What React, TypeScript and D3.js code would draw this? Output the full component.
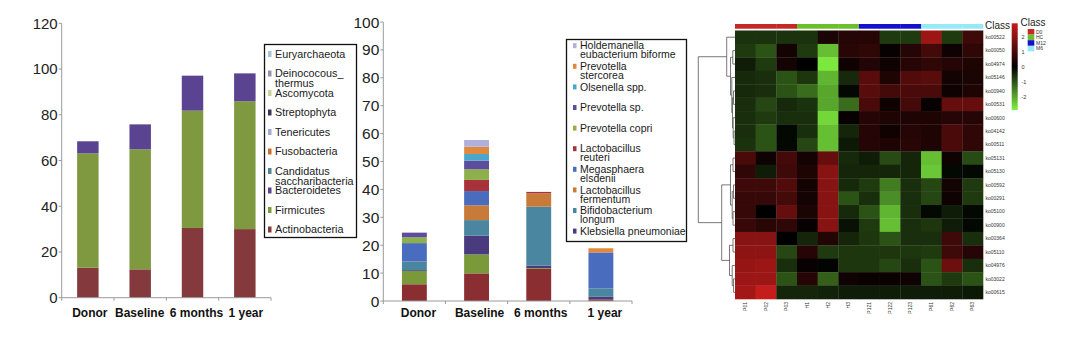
import React from 'react';
import * as d3 from 'd3';

// ---------------- shared categories ----------------
const categories = ['Donor', 'Baseline', '6 months', '1 year'];

// ---------------- left panel: phyla (stack order bottom -> top) ----------------
const phylaKeys = ['Actinobacteria', 'Firmicutes', 'Bacteroidetes', 'Candidatus saccharibacteria', 'Fusobacteria', 'Tenericutes', 'Streptophyta', 'Ascomycota', 'Deinococous_ thermus', 'Euryarchaeota'];
const actinobacteria = [13.1, 12.4, 30.5, 30.0];
const firmicutes = [50.0, 52.5, 51.3, 55.9];
const bacteroidetes = [5.3, 10.9, 15.3, 12.2];
const candidatus = [0, 0, 0, 0];
const fusobacteria = [0, 0, 0, 0];
const tenericutes = [0, 0, 0, 0];
const streptophyta = [0, 0, 0, 0];
const ascomycota = [0, 0, 0, 0];
const deinococcus = [0, 0, 0, 0];
const euryarchaeota = [0, 0, 0, 0];
const phylaColors = ['#843a3c', '#7e993f', '#5a4390', '#4b8597', '#c86e2e', '#a3a9d6', '#3a3358', '#c6d39c', '#9891b4', '#a4c4d8'];
const leftTicks = [0, 20, 40, 60, 80, 100, 120];

// ---------------- middle panel: species (stack order bottom -> top) ----------------
const speciesKeys = ['Other taxon A', 'Other taxon B', 'Klebsiella pneumoniae', 'Bifidobacterium longum', 'Lactobacillus fermentum', 'Megasphaera elsdenii', 'Lactobacillus reuteri', 'Prevotella copri', 'Prevotella sp.', 'Olsenella spp.', 'Prevotella stercorea', 'Holdemanella eubacterium biforme'];
const otherA = [6.0, 9.9, 11.5, 0.6];
const otherB = [4.75, 6.8, 0.3, 0];
const klebsiella = [0.3, 6.7, 0.9, 0.9];
const bifidobacterium = [3.1, 5.6, 21.1, 3.0];
const lFermentum = [0, 5.3, 4.8, 0];
const megasphaera = [6.6, 5.1, 0, 12.9];
const lReuteri = [0, 4.0, 0.5, 0];
const pCopri = [2.1, 3.8, 0, 0];
const prevotellaSp = [1.65, 3.1, 0, 0];
const olsenella = [0, 2.4, 0, 0];
const pStercorea = [0, 2.6, 0, 1.5];
const holdemanella = [0, 2.4, 0, 0];
const speciesColors = ['#8b2e32', '#7a9a3a', '#4a3a7e', '#4a86a0', '#c87a38', '#4a6cbe', '#a8323a', '#8db04c', '#5e4c9c', '#4aa6cc', '#e0883c', '#b0b0dc'];
const midTicks = [0, 10, 20, 30, 40, 50, 60, 70, 80, 90, 100];

// legend lines (top -> bottom)
const leftLegend = [
  ['Euryarchaeota'], ['Deinococous_', 'thermus'], ['Ascomycota'], ['Streptophyta'], ['Tenericutes'],
  ['Fusobacteria'], ['Candidatus', 'saccharibacteria'], ['Bacteroidetes'], ['Firmicutes'], ['Actinobacteria'],
];
const midLegend = [
  ['Holdemanella', 'eubacterium biforme'], ['Prevotella', 'stercorea'], ['Olsenella spp.'], ['Prevotella sp.'],
  ['Prevotella copri'], ['Lactobacillus', 'reuteri'], ['Megasphaera', 'elsdenii'], ['Lactobacillus', 'fermentum'],
  ['Bifidobacterium', 'longum'], ['Klebsiella pneumoniae'],
];

// ---------------- heatmap ----------------
const hmRows = ['ko00522', 'ko00050', 'ko04974', 'ko05146', 'ko00940', 'ko00531', 'ko00600', 'ko04142', 'ko00511', 'ko05131', 'ko05130', 'ko00592', 'ko00291', 'ko05100', 'ko00900', 'ko00364', 'ko05110', 'ko04976', 'ko03022', 'ko00615'];
const hmCols = ['P01', 'P02', 'P03', 'H1', 'H2', 'H3', 'P121', 'P122', 'P123', 'P61', 'P62', 'P63'];
const hmColClass = ['D0', 'D0', 'D0', 'HC', 'HC', 'HC', 'M12', 'M12', 'M12', 'M6', 'M6', 'M6'];
const classNames = ['D0', 'HC', 'M12', 'M6'];
const classColors = ['#c62828', '#6abf2a', '#1410cc', '#96eaf8'];
const hmValues = [
  [-0.6, -0.6, -0.6, -0.6, 0.4, 0.55, 0.55, -0.7, -0.7, 2.3, -0.7, 0.9],
  [-0.7, -1.0, 0.3, -0.7, -2.3, 0.6, 0.7, 0.1, 0.55, 1.0, 0.2, 0.7],
  [-0.35, -0.7, 0.3, 0.0, -2.8, 0.25, 0.5, 0.2, 0.55, 0.7, 0.55, 0.45],
  [-0.5, -0.55, -1.0, -0.65, -2.2, -0.5, 1.3, 0.45, 1.2, 1.3, 0.3, 0.4],
  [-0.5, -0.55, -1.0, -1.3, -2.0, -0.1, 1.3, 1.0, 1.1, 1.1, 0.2, 0.45],
  [-0.55, -0.85, -0.5, -0.6, -2.0, -1.3, 1.1, 0.25, 1.0, 0.1, 1.5, 1.5],
  [-0.55, -0.7, -0.55, -0.55, -2.6, 0.1, 0.55, 0.45, 0.45, 0.45, 0.55, 0.55],
  [-0.55, -1.0, -0.1, -0.55, -2.3, -0.45, 0.55, 0.25, 0.55, 0.45, 1.1, 0.7],
  [-0.6, -1.0, -0.1, -0.85, -2.3, -0.3, 0.55, 0.45, 0.6, 0.45, 1.1, 0.7],
  [1.1, 0.2, 1.0, 0.3, 1.5, -0.5, -0.35, -0.9, -0.45, -2.3, 0.2, -0.9],
  [0.7, -0.35, 0.9, 0.45, 2.0, -0.45, -0.45, -0.45, -0.45, -2.4, -0.1, -0.1],
  [0.9, 0.9, 1.2, 0.3, 2.0, -0.5, -0.7, -1.5, -0.55, -0.85, 0.3, -0.7],
  [0.8, 0.8, 1.0, 0.3, 2.0, -1.0, -0.55, -1.7, -0.55, -0.85, 0.2, -0.7],
  [0.8, 0.0, 1.5, 0.4, 2.0, -0.5, -1.0, -2.2, -0.55, -0.1, -0.35, -0.1],
  [0.8, 0.6, 0.7, 0.1, 2.0, -0.2, -0.7, -2.3, -0.55, -0.65, -0.35, -0.1],
  [2.0, 2.0, 0.0, -0.45, 0.5, -0.45, -0.65, -1.0, -0.55, -0.55, 0.9, -0.55],
  [2.1, 2.1, -0.85, 0.55, -0.7, -0.65, -0.65, -0.65, -0.65, -0.7, 0.9, 0.55],
  [2.2, 2.3, -0.55, 0.1, -0.05, -0.65, -0.65, -0.85, -0.55, -1.0, 1.6, -0.55],
  [2.3, 2.3, -1.0, 0.55, -1.15, 0.2, 0.15, 0.15, 0.2, -1.0, -0.7, -1.0],
  [2.4, 2.9, -0.45, -0.45, -0.4, -0.35, -0.35, -0.35, -0.35, -0.35, -0.35, -0.3],
];
const keyTicks = [2, 1, 0, -1, -2];
// row dendrogram, hclust-style merges: negative = leaf (row index + 1), positive = earlier merge (1-based)
const dendroMerges: [number, number, number][] = [
  [-8, -9, 1.0], [-7, 1, 1.8], [-5, -6, 1.5], [3, 2, 2.5], [-4, 4, 3.2], [-2, -3, 2.2], [6, 5, 4.5], [-1, 7, 8.3],
  [-10, -11, 2.0], [-12, -13, 1.5], [-14, -15, 2.0], [10, 11, 2.8], [9, 12, 4.5], [-16, -17, 2.0], [-19, -20, 1.5],
  [-18, 15, 2.8], [14, 16, 5.5], [13, 17, 13.3], [8, 18, 36.7],
];

const FONT = 'Liberation Sans, Arial, Helvetica, sans-serif';

function StackedPanel(props: {
  keys: string[]; series: number[][]; colors: string[]; ticks: number[];
  yDomain: [number, number]; yRange: [number, number]; xRange: [number, number];
  pad: number; tickFont: number; labelDx: number[];
}) {
  const { keys, series, colors, ticks, yDomain, yRange, xRange, pad, tickFont, labelDx } = props;
  const y = d3.scaleLinear().domain(yDomain).range(yRange);
  const x = d3.scaleBand<string>().domain(categories).range(xRange).paddingInner(pad).paddingOuter(pad / 2);
  const rows = categories.map((c, i) => {
    const r: any = { cat: c };
    keys.forEach((k, j) => (r[k] = series[j][i]));
    return r;
  });
  const stacked = d3.stack<any>().keys(keys)(rows);
  const step = x.step();
  const x0 = xRange[0];
  const axisColor = '#9a9a9a';
  return (
    <g>
      {stacked.map((layer, li) => (
        <g key={li} fill={colors[li]}>
          {layer.map((d, di) =>
            d[1] - d[0] > 0 ? (
              <rect key={di} x={x(d.data.cat)!} width={x.bandwidth()} y={y(d[1])} height={y(d[0]) - y(d[1])} />
            ) : null
          )}
        </g>
      ))}
      {/* y axis */}
      <line x1={x0} x2={x0} y1={y(yDomain[1])} y2={y(0)} stroke={axisColor} strokeWidth={1} />
      {ticks.map((t) => (
        <g key={t}>
          <line x1={x0 - 3} x2={x0} y1={y(t)} y2={y(t)} stroke={axisColor} strokeWidth={1} />
          <text x={x0 - 4} y={y(t)} dy="0.36em" textAnchor="end" fontSize={tickFont} fill="#222" fontFamily={FONT}>
            {t}
          </text>
        </g>
      ))}
      {/* x axis */}
      <line x1={x0} x2={xRange[1]} y1={y(0)} y2={y(0)} stroke={axisColor} strokeWidth={1} />
      {d3.range(categories.length + 1).map((i) => (
        <line key={i} x1={x0 + i * step} x2={x0 + i * step} y1={y(0)} y2={y(0) + 3} stroke={axisColor} strokeWidth={1} />
      ))}
      {categories.map((c, i) => (
        <text key={c} x={x(c)! + x.bandwidth() / 2 + labelDx[i]} y={317} textAnchor="middle" fontSize={12} fontWeight="bold" fill="#111" fontFamily={FONT}>
          {c}
        </text>
      ))}
    </g>
  );
}

function Legend(props: { x: number; y: number; w: number; h: number; items: string[][]; colors: string[]; y0: number; dy: number; lineH: number; font: number; sw: number; sh: number; textX: number }) {
  const { x, y, w, h, items, colors, y0, dy, lineH, font, sw, sh, textX } = props;
  return (
    <g>
      <rect x={x} y={y} width={w} height={h} fill="#fff" stroke="#111" strokeWidth={1.3} />
      {items.map((lines, i) => {
        const cy = y0 + i * dy;
        return (
          <g key={i}>
            <rect x={textX - sw - 3.5} y={cy - sh / 2} width={sw} height={sh} fill={colors[i]} />
            {lines.map((ln, j) => (
              <text key={j} x={textX} y={cy + j * lineH} dy="0.35em" fontSize={font} fill="#1a1a1a" fontFamily={FONT}>
                {ln}
              </text>
            ))}
          </g>
        );
      })}
    </g>
  );
}

function Heatmap() {
  const x = d3.scaleBand<number>().domain(d3.range(hmCols.length)).range([735, 983]);
  const y = d3.scaleBand<number>().domain(d3.range(hmRows.length)).range([30.5, 299]);
  const color = d3.scaleLinear<string>().domain([-2.9, 0, 2.95]).range(['#80f040', '#000000', '#c81c1c']).interpolate(d3.interpolateRgb).clamp(true);
  const classColor = d3.scaleOrdinal<string, string>().domain(classNames).range(classColors);
  const yKey = d3.scaleLinear().domain([-2.9, 2.95]).range([110, 23.3]);

  // dendrogram layout
  const maxH = d3.max(dendroMerges, (m) => m[2])!;
  const hx = d3.scaleLinear().domain([0, maxH]).range([735, 698.3]);
  const posY: number[] = [];
  const posH: number[] = [];
  const segs: { x1: number; y1: number; x2: number; y2: number }[] = [];
  const nodeY = (n: number) => (n < 0 ? y(-n - 1)! + y.bandwidth() / 2 : posY[n - 1]);
  const nodeX = (n: number) => (n < 0 ? hx(0) : hx(posH[n - 1]));
  dendroMerges.forEach((m, i) => {
    const [a, b, h] = m;
    const ya = nodeY(a), yb = nodeY(b);
    const xp = hx(h);
    segs.push({ x1: xp, y1: ya, x2: xp, y2: yb });
    segs.push({ x1: xp, y1: ya, x2: nodeX(a), y2: ya });
    segs.push({ x1: xp, y1: yb, x2: nodeX(b), y2: yb });
    posY[i] = (ya + yb) / 2;
    posH[i] = h;
  });

  const gradStops = d3.range(0, 1.0001, 0.05).map((t) => ({ t, c: color(2.95 - t * (2.95 + 2.9)) }));

  return (
    <g>
      <defs>
        <linearGradient id="hmKey" x1="0" y1="0" x2="0" y2="1">
          {gradStops.map((s, i) => (
            <stop key={i} offset={s.t} stopColor={s.c} />
          ))}
        </linearGradient>
      </defs>
      {/* class bar */}
      {hmColClass.map((c, j) => (
        <rect key={j} x={x(j)!} y={24} width={x.bandwidth() + 0.3} height={4.7} fill={classColor(c)} />
      ))}
      <text x={985} y={29} fontSize={10} fill="#222" fontFamily={FONT}>Class</text>
      {/* cells */}
      {hmValues.map((row, i) =>
        row.map((v, j) => (
          <rect key={i + '-' + j} x={x(j)!} y={y(i)!} width={x.bandwidth() + 0.3} height={y.bandwidth() + 0.3} fill={color(v)} />
        ))
      )}
      {/* row labels */}
      {hmRows.map((r, i) => (
        <text key={r} x={985.5} y={y(i)! + y.bandwidth() / 2} dy="0.35em" fontSize={5} fill="#333" fontFamily={FONT}>
          {r}
        </text>
      ))}
      {/* col labels */}
      {hmCols.map((c, j) => (
        <text key={c} transform={`translate(${x(j)! + x.bandwidth() / 2 + 1.6},302) rotate(-90)`} textAnchor="end" fontSize={5} fill="#333" fontFamily={FONT}>
          {c}
        </text>
      ))}
      {/* dendrogram */}
      <g stroke="#555" strokeWidth={0.8} fill="none">
        {segs.map((s, i) => (
          <line key={i} x1={s.x1} y1={s.y1} x2={s.x2} y2={s.y2} />
        ))}
      </g>
      {/* color key */}
      <rect x={1011.7} y={yKey(2.95)} width={6} height={yKey(-2.9) - yKey(2.95)} fill="url(#hmKey)" />
      {keyTicks.map((t) => (
        <text key={t} x={1021.5} y={yKey(t)} dy="0.35em" fontSize={5.5} fill="#333" fontFamily={FONT}>
          {t}
        </text>
      ))}
      {/* class legend */}
      <text x={1020.5} y={26} fontSize={10} fill="#222" fontFamily={FONT}>Class</text>
      {classNames.map((c, i) => (
        <g key={c}>
          <rect x={1027.7} y={29 + i * 5.6} width={6.6} height={5.6} fill={classColor(c)} />
          <text x={1036} y={29 + i * 5.6 + 2.8} dy="0.35em" fontSize={5} fill="#333" fontFamily={FONT}>
            {c}
          </text>
        </g>
      ))}
    </g>
  );
}

export default function App() {
  const leftSeries = [actinobacteria, firmicutes, bacteroidetes, candidatus, fusobacteria, tenericutes, streptophyta, ascomycota, deinococcus, euryarchaeota];
  const midSeries = [otherA, otherB, klebsiella, bifidobacterium, lFermentum, megasphaera, lReuteri, pCopri, prevotellaSp, olsenella, pStercorea, holdemanella];
  const leftLegendColors = phylaColors.slice().reverse();
  const midLegendColors = speciesColors.slice(2).reverse();
  return (
    <svg width={1080} height={356} style={{ position: 'absolute', left: 0, top: 0, background: '#fff' }}>
      <rect width={1080} height={356} fill="#fff" />
      <StackedPanel keys={phylaKeys} series={leftSeries} colors={phylaColors} ticks={leftTicks} yDomain={[0, 120]} yRange={[297.7, 23.3]} xRange={[61.7, 271]} pad={0.59} tickFont={15} labelDx={[2, -0.5, 4, 1]} />
      <Legend x={264.5} y={44.5} w={92} h={193} items={leftLegend} colors={leftLegendColors} y0={54} dy={19.5} lineH={10} font={10.8} sw={3.5} sh={6} textX={275} />
      <StackedPanel keys={speciesKeys} series={midSeries} colors={speciesColors} ticks={midTicks} yDomain={[0, 100]} yRange={[301, 22]} xRange={[383.3, 632]} pad={0.6} tickFont={15.5} labelDx={[4, 3, 2, 4]} />
      <Legend x={566.5} y={39.5} w={120} h={202} items={midLegend} colors={midLegendColors} y0={45.7} dy={20.6} lineH={9} font={10.5} sw={3.5} sh={5} textX={580} />
      <Heatmap />
    </svg>
  );
}
